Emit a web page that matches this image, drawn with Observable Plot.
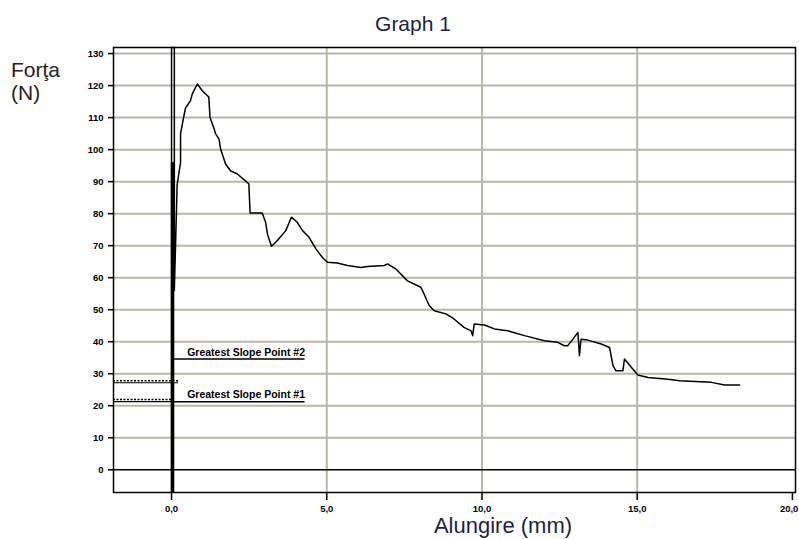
<!DOCTYPE html>
<html>
<head>
<meta charset="utf-8">
<script src="https://cdn.jsdelivr.net/npm/d3@7"></script>
<script src="https://cdn.jsdelivr.net/npm/@observablehq/plot@0.6"></script>
<style>
  html, body { margin: 0; padding: 0; background: #fff; }
  #chart { position: relative; width: 799px; height: 539px; }
</style>
</head>
<body>
<div id="chart"></div>
<script>
// ---- data ----
const titleText = "Graph 1";
const yLabelLines = ["Forţa", "(N)"];
const xLabelText = "Alungire (mm)";

const xTicks = [0, 5, 10, 15, 20];
const xTickLast = [20];
const yTicks = [0, 10, 20, 30, 40, 50, 60, 70, 80, 90, 100, 110, 120, 130];
const xGrid = [5, 10, 15];
const yGrid = [10, 20, 30, 40, 50, 60, 70, 80, 90, 100, 110, 120, 130];

// elongation (mm) and force (N) of the test curve
const elongation = [0, 0, 0.09, 0.09, 0.16, 0.18, 0.29, 0.29, 0.40, 0.45, 0.61, 0.67, 0.83, 0.99, 1.15, 1.20, 1.24, 1.37, 1.42, 1.53, 1.58, 1.74, 1.90, 2.12, 2.49, 2.53, 2.92, 3.03, 3.09, 3.22, 3.41, 3.68, 3.86, 4.05, 4.22, 4.43, 4.65, 4.86, 5.02, 5.34, 5.67, 6.10, 6.31, 6.85, 6.96, 7.23, 7.60, 8.03, 8.13, 8.30, 8.46, 8.84, 9.10, 9.42, 9.65, 9.70, 9.75, 10.08, 10.40, 10.83, 11.37, 12.01, 12.44, 12.65, 12.76, 12.93, 13.09, 13.14, 13.19, 13.41, 13.84, 14.11, 14.22, 14.32, 14.54, 14.59, 14.81, 15.02, 15.35, 15.99, 16.37, 17.39, 17.82, 18.30];
const force =      [-7.1, 131.9, 131.9, 56, 81.5, 89, 96, 105, 110.6, 113, 115.3, 117.4, 120.5, 118.4, 116.9, 116.4, 110, 106.5, 104.9, 103.3, 100.2, 95.5, 93.4, 92.4, 89.3, 80.2, 80.2, 77.3, 73.6, 69.8, 71.6, 74.7, 78.9, 77.3, 74.7, 72.6, 69, 66.3, 64.8, 64.6, 63.8, 63.2, 63.5, 63.8, 64.3, 62.7, 59, 57, 55, 51.3, 49.7, 48.7, 47.1, 44.5, 43.4, 41.9, 45.5, 45.2, 44, 43.4, 41.9, 40.3, 39.8, 38.75, 38.75, 40.8, 42.9, 35.6, 40.8, 40.5, 39.3, 38.2, 32.5, 30.9, 30.9, 34.6, 32, 29.6, 28.8, 28.3, 27.8, 27.3, 26.5, 26.5];

// preload overlap at the origin (thick part of the vertical)
const preloadX = [0];
const preloadTop = [96];

// greatest slope points
const slopeLabels = ["Greatest Slope Point #2", "Greatest Slope Point #1"];
const slopeForce = [34.6, 21.25];
const slopeStart = [0.06, 0];
const slopeEnd = [4.3, 4.3];
const slopeLabelForce = [36.7, 23.6];

// dotted baseline markers at the left edge
const dottedForce = [27.5, 21.6];
const dottedStart = [-1.87, -1.87];
const dottedEnd = [0.23, 0];

// ---- build tables ----
const curve = elongation.map((x, i) => ({x, y: force[i]}));
const slopes = slopeLabels.map((t, i) => ({t, y: slopeForce[i], x1: slopeStart[i], x2: slopeEnd[i], ly: slopeLabelForce[i]}));
const dotted = dottedForce.map((y, i) => ({y, x1: dottedStart[i], x2: dottedEnd[i]}));
const preload = preloadX.map((x, i) => ({x, top: preloadTop[i]}));

const gridColor = "#bab6a9";
const fmt = d => d.toFixed(1).replace(".", ",");
const fmtAxis = d => (xTickLast.includes(d) ? "" : fmt(d));

const chart = Plot.plot({
  width: 799,
  height: 539,
  marginLeft: 113,
  marginRight: 4,
  marginTop: 47,
  marginBottom: 47,
  style: {fontFamily: "'Liberation Sans', Arial, sans-serif", background: "white", color: "black"},
  x: {domain: [-1.87, 20.1]},
  y: {domain: [-7.1, 131.9]},
  marks: [
    Plot.gridY(yGrid, {stroke: gridColor, strokeOpacity: 1, strokeWidth: 2}),
    Plot.gridX(xGrid, {stroke: gridColor, strokeOpacity: 1, strokeWidth: 2}),
    Plot.ruleY([0], {stroke: "black", strokeWidth: 1.5}),
    Plot.axisY(yTicks, {tickSize: 5, tickPadding: 5, fontSize: 9.5, fontWeight: "bold", label: null, strokeWidth: 1.5}),
    Plot.axisX(xTicks, {tickSize: 8, tickPadding: 5, fontSize: 9.5, fontWeight: "bold", label: null, tickFormat: fmtAxis, strokeWidth: 1.5}),
    Plot.text(xTickLast, {x: d => d, frameAnchor: "bottom", dy: 13, lineAnchor: "top", text: fmt, textAnchor: "end", dx: 6, fontSize: 9.5, fontWeight: "bold", fill: "black"}),
    Plot.ruleY(dotted, {y: "y", x1: "x1", x2: "x2", stroke: "black", strokeWidth: 1.2, dy: 1}),
    Plot.ruleY(dotted, {y: "y", x1: "x1", x2: "x2", stroke: "black", strokeWidth: 1.5, strokeDasharray: "2,1.5", dy: -1}),
    Plot.ruleY(slopes, {y: "y", x1: "x1", x2: "x2", stroke: "black", strokeWidth: 1.5}),
    Plot.text(slopes, {x: "x2", y: "ly", text: "t", textAnchor: "end", fontSize: 10.5, fontWeight: "bold", fill: "black"}),
    Plot.ruleX(preload, {x: "x", y1: -7.1, y2: "top", stroke: "black", strokeWidth: 3.5, dx: 1}),
    Plot.line(curve, {x: "x", y: "y", stroke: "black", strokeWidth: 1.5}),
    Plot.frame({stroke: "black", strokeWidth: 1.5})
  ]
});

const host = document.getElementById("chart");
host.appendChild(chart);

const svg = d3.select(chart);
svg.append("text")
  .attr("x", 413).attr("y", 31)
  .attr("text-anchor", "middle")
  .attr("font-size", 21)
  .attr("fill", "#1e1e44")
  .attr("font-family", "'Liberation Sans', Arial, sans-serif")
  .text(titleText);
yLabelLines.forEach((t, i) => {
  svg.append("text")
    .attr("x", 11).attr("y", 77 + i * 23)
    .attr("text-anchor", "start")
    .attr("font-size", 21)
    .attr("fill", "#2a2222")
    .attr("font-family", "'Liberation Sans', Arial, sans-serif")
    .text(t);
});
svg.append("text")
  .attr("x", 503).attr("y", 533)
  .attr("text-anchor", "middle")
  .attr("font-size", 22)
  .attr("fill", "#1e1e44")
  .attr("font-family", "'Liberation Sans', Arial, sans-serif")
  .text(xLabelText);
</script>
</body>
</html>
